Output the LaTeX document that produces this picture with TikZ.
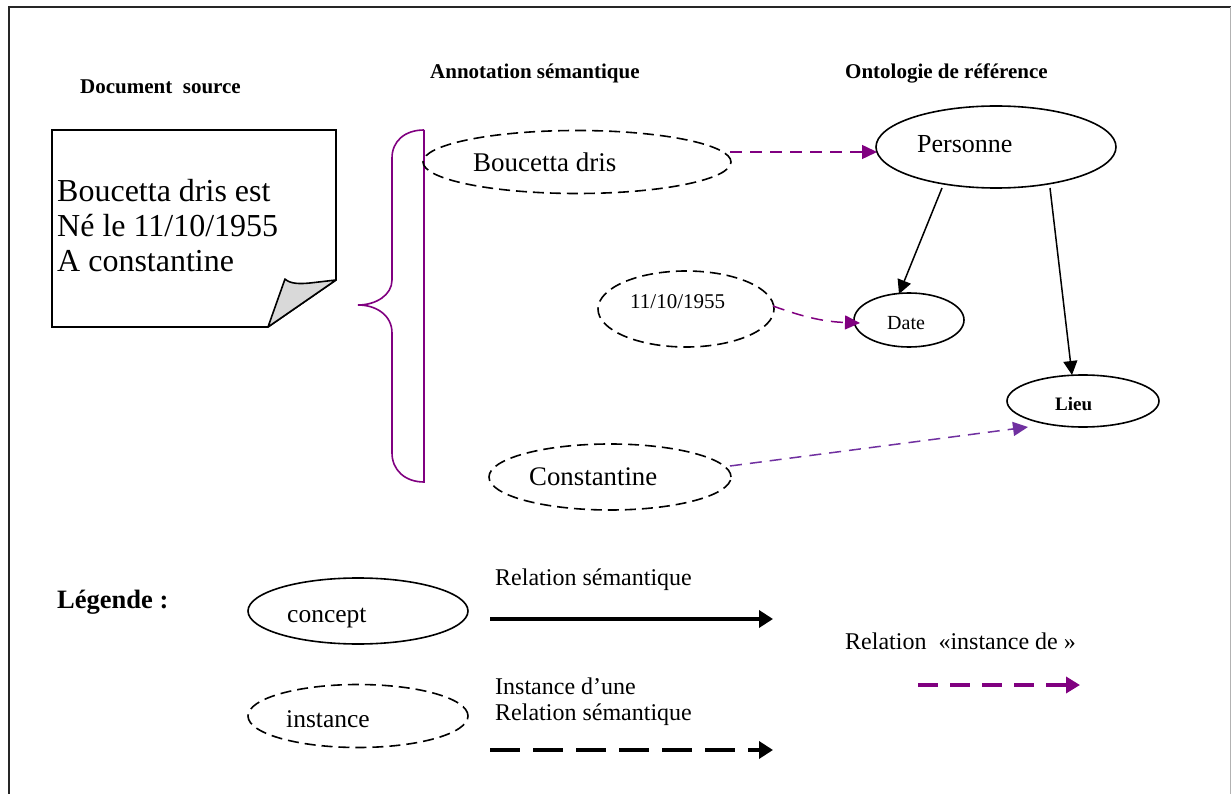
\documentclass[tikz,border=0pt]{standalone}
\usepackage{fontspec}
\setmainfont{Liberation Serif}
\usetikzlibrary{arrows.meta,shapes.geometric}
\definecolor{plum}{HTML}{800080}
\definecolor{violetlink}{HTML}{7030A0}
\newcommand{\fsz}[1]{\fontsize{#1}{#1}\selectfont}
\begin{document}
\begin{tikzpicture}[x=1pt,y=-1pt,
  concept/.style={draw, ellipse, line width=1.6pt, inner sep=0pt},
  inst/.style={draw, ellipse, line width=1.6pt, dash pattern=on 11pt off 6pt, inner sep=0pt},
  txt/.style={inner sep=0pt, anchor=base west},
  semrel/.style={line width=1.5pt, -{Triangle[length=14pt,width=14pt]}},
  instof/.style={plum, line width=1.5pt, dash pattern=on 12pt off 8pt, -{Triangle[length=15pt,width=14pt]}},
  legsem/.style={line width=3.5pt, -{Triangle[length=14pt,width=17pt]}},
  leginst/.style={line width=3.5pt, dash pattern=on 30pt off 13pt, -{Triangle[length=14pt,width=17pt]}},
  leginstof/.style={plum, line width=3.5pt, dash pattern=on 20pt off 12pt, -{Triangle[length=14pt,width=16pt]}}
]
\useasboundingbox (0,0) rectangle (1232,794);

% outer frame (open at the bottom)
\draw[black!85, line width=2.5pt] (9,794) -- (9,7) -- (1231,7);
\draw[black!30, line width=1.2pt] (1230.5,7) -- (1230.5,794);

% column headings
\node[txt] (hdoc) at (80,94) {\fsz{21}\textbf{Document\ \ source}};
\node[txt] (hann) at (430,79) {\fsz{21}\textbf{Annotation sémantique}};
\node[txt] (honto) at (845,79) {\fsz{21}\textbf{Ontologie de référence}};

% source document with folded corner
\draw[line width=1.6pt, fill=white] (52,130) -- (336,130) -- (336,280) -- (268,327) -- (52,327) -- cycle;
\filldraw[fill=black!15, line width=1.6pt, line join=round]
  (268,327) -- (285,279) .. controls (290,284) and (300,284) .. (310,283) -- (336,280) -- cycle;
\begin{scope}
  \clip (52,130) rectangle (336,271.5);
  \node[txt] (doc1) at (57,202) {\fsz{32}Boucetta dris est};
  \node[txt] (doc2) at (57,237) {\fsz{32}Né le 11/10/1955};
  \node[txt] (doc3) at (57,272) {\fsz{32}A constantine};
\end{scope}

% annotation brace
\draw[plum, line width=1.6pt] (424,130) -- (424,482)
  .. controls (405,482) and (392,470) .. (392,453) -- (392,333)
  .. controls (392,315) and (376,305) .. (358,305)
  .. controls (376,305) and (392,295) .. (392,280) -- (392,158)
  .. controls (392,141) and (405,130) .. (424,130);

% instances
\node[inst, minimum width=308pt, minimum height=63pt] (boucetta) at (577,162) {};
\node[txt] (boucettaT) at (473,172) {\fsz{27}Boucetta dris};
\node[inst, minimum width=176pt, minimum height=76pt] (ddate) at (686,309) {};
\node[txt] (ddateT) at (630,309) {\fsz{21}11/10/1955};
\node[inst, minimum width=242pt, minimum height=66pt] (constantine) at (610,477) {};
\node[txt] (constantineT) at (529,485) {\fsz{26.8}Constantine};

% concepts
\node[concept, minimum width=240pt, minimum height=82pt] (personne) at (996,147) {};
\node[txt] (personneT) at (917,153) {\fsz{26}Personne};
\node[concept, minimum width=110pt, minimum height=54pt] (date) at (909,320) {};
\node[txt] (dateT) at (887,330) {\fsz{20}Date};
\node[concept, minimum width=152pt, minimum height=52pt] (lieu) at (1083,401) {};
\node[txt] (lieuT) at (1055,410) {\fsz{19}\textbf{Lieu}};

% semantic relations
\draw[semrel] ([shift={(-54,41)}]personne.center) -- ([shift={(-10,-26)}]date.center);
\draw[semrel] ([shift={(54,41)}]personne.center) -- ([shift={(-11,-26)}]lieu.center);

% "instance de" relations
\draw[instof] ([shift={(153,-10)}]boucetta.center) -- ([shift={(-119,5)}]personne.center);
\draw[instof] ([shift={(87,-3)}]ddate.center) to[out=-20,in=178] ([shift={(-49,3)}]date.center);
\draw[instof, violetlink] ([shift={(120,-11)}]constantine.center) -- ([shift={(-55,26)}]lieu.center);

% legend
\node[txt] (legT) at (57,608) {\fsz{26.5}\textbf{Légende :}};
\node[concept, minimum width=220pt, minimum height=66pt] (legC) at (358,611) {};
\node[txt] (legCT) at (287,622) {\fsz{25.5}concept};
\node[inst, minimum width=220pt, minimum height=63pt] (legI) at (358,716) {};
\node[txt] (legIT) at (286,727) {\fsz{25.5}instance};

\node[txt] (legsemT) at (495,585) {\fsz{24}Relation sémantique};
\coordinate (ls1) at (490,619);
\coordinate (ls2) at (773,619);
\draw[legsem] (ls1) -- (ls2);

\node[txt] (leginstT1) at (495,694) {\fsz{24}Instance d’une};
\node[txt] (leginstT2) at (495,720) {\fsz{24}Relation sémantique};
\coordinate (li1) at (490,750);
\coordinate (li2) at (773,750);
\draw[leginst] (li1) -- (li2);

\node[txt] (legofT) at (845,649) {\fsz{24}Relation\ \ «instance de~»};
\coordinate (lo1) at (918,685);
\coordinate (lo2) at (1080,685);
\draw[leginstof] (lo1) -- (lo2);
\end{tikzpicture}
\end{document}
